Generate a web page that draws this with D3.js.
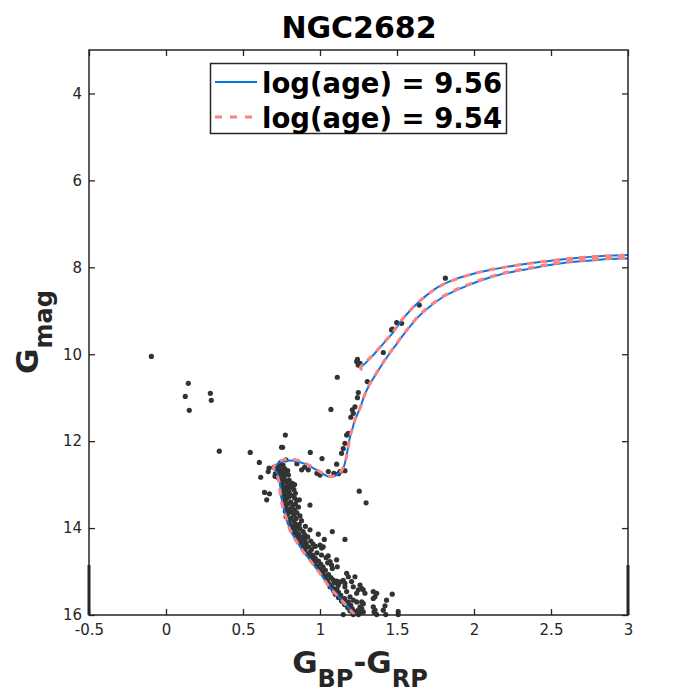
<!DOCTYPE html>
<html>
<head>
<meta charset="utf-8">
<script src="https://cdn.jsdelivr.net/npm/d3@7"></script>
<style>
  body { margin: 0; background: #fff; }
  text { font-family: "DejaVu Sans", sans-serif; }
</style>
</head>
<body>
<script>
const W = 694, H = 694;
const plotL = 89, plotR = 628, plotT = 50, plotB = 615;

const xTicks = [-0.5, 0, 0.5, 1, 1.5, 2, 2.5, 3];
const yTicks = [4, 6, 8, 10, 12, 14, 16];
const seriesNames = ['log(age) = 9.56', 'log(age) = 9.54'];

// isochrones [BP-RP, G], main sequence -> RGB, and the clump/AGB part
const iso956Rgb = [[1.227,16.0],[1.143,15.66],[1.065,15.36],[1.0,15.03],[0.935,14.73],[0.885,14.5],[0.843,14.27],[0.807,14.04],[0.784,13.76],[0.765,13.55],[0.752,13.35],[0.745,13.15],[0.74,12.97],[0.722,12.74],[0.705,12.65],[0.702,12.62],[0.72,12.53],[0.76,12.47],[0.83,12.45],[0.913,12.54],[0.989,12.69],[1.05,12.81],[1.08,12.82],[1.12,12.75],[1.151,12.62],[1.173,12.32],[1.195,11.9],[1.212,11.7],[1.227,11.51],[1.26,11.24],[1.292,10.92],[1.325,10.68],[1.379,10.37],[1.433,10.08],[1.49,9.8],[1.56,9.47],[1.638,9.14],[1.714,8.9],[1.81,8.66],[1.93,8.46],[2.04,8.31],[2.147,8.19],[2.255,8.1],[2.364,8.03],[2.47,7.96],[2.58,7.9],[2.69,7.86],[2.8,7.83],[2.95,7.8],[3.1,7.79]];
const iso956Agb = [[1.27,10.29],[1.346,10.02],[1.41,9.76],[1.475,9.5],[1.53,9.22],[1.606,8.92],[1.693,8.64],[1.779,8.43],[1.888,8.26],[1.996,8.15],[2.104,8.06],[2.212,7.99],[2.32,7.93],[2.43,7.88],[2.54,7.83],[2.646,7.79],[2.755,7.76],[2.906,7.73],[3.1,7.71]];
const iso954Rgb = [[1.225,16.0],[1.14,15.66],[1.062,15.36],[0.997,15.03],[0.932,14.73],[0.882,14.5],[0.84,14.27],[0.804,14.04],[0.78,13.76],[0.761,13.55],[0.748,13.35],[0.74,13.15],[0.735,12.97],[0.717,12.74],[0.7,12.64],[0.698,12.6],[0.718,12.5],[0.76,12.43],[0.83,12.42],[0.913,12.52],[0.99,12.68],[1.05,12.8],[1.082,12.81],[1.122,12.74],[1.153,12.6],[1.175,12.3],[1.196,11.88],[1.213,11.68],[1.228,11.5],[1.262,11.22],[1.294,10.9],[1.327,10.66],[1.381,10.35],[1.435,10.06],[1.492,9.78],[1.562,9.45],[1.64,9.12],[1.716,8.88],[1.812,8.64],[1.932,8.44],[2.042,8.29],[2.15,8.17],[2.258,8.08],[2.367,8.01],[2.472,7.94],[2.582,7.88],[2.692,7.84],[2.802,7.81],[2.952,7.78],[3.1,7.77]];
const iso954Agb = [[1.275,10.36],[1.262,10.31],[1.34,10.03],[1.405,9.77],[1.47,9.51],[1.526,9.23],[1.602,8.93],[1.69,8.65],[1.776,8.44],[1.885,8.27],[1.993,8.15],[2.1,8.06],[2.21,7.99],[2.318,7.93],[2.428,7.88],[2.538,7.83],[2.644,7.79],[2.753,7.76],[2.904,7.73],[3.1,7.71]];

// cluster members [BP-RP, G]
const stars = [
  // blue stragglers
  [-0.095,10.05],[0.145,10.67],[0.125,10.97],[0.288,10.9],[0.294,11.06],[0.151,11.29],[0.346,12.23],[0.547,12.26],[0.606,12.49],
  [0.669,12.62],[0.664,12.7],[0.615,12.83],[0.64,13.18],[0.672,13.21],[0.654,13.35],[0.708,12.81],
  // giants, clump, subgiants
  [1.238,10.17],[1.248,10.25],[1.26,10.21],[1.243,10.12],[1.411,9.96],[1.112,10.53],[1.307,10.63],[1.249,10.88],[1.243,11.0],
  [1.465,9.44],[1.498,9.27],[1.53,9.29],[1.47,9.42],[1.645,8.87],[1.814,8.25],[1.071,11.27],[0.775,11.86],[0.75,12.14],[0.757,12.14],
  [0.937,12.26],[1.013,12.4],[1.14,12.28],[1.151,12.17],[1.162,12.05],[1.173,11.86],[1.184,11.82],[1.227,11.21],[1.216,11.36],
  [1.21,11.28],[1.2,11.45],[0.85,12.52],[0.881,12.66],[0.924,12.66],[0.9,12.6],[0.98,12.74],[1.0,12.78],[1.054,12.7],[1.108,12.53],
  [1.162,12.68],[1.13,12.7],[1.12,12.75],[1.09,12.74],[1.255,13.15],[1.299,13.42],
  // turnoff
  [0.779,12.43],[0.742,12.5],[0.76,12.55],[0.735,12.58],[0.7,12.6],[0.72,12.62],[0.77,12.63],[0.745,12.66],[0.79,12.68],[0.73,12.7],
  [0.755,12.72],[0.78,12.74],[0.71,12.75],[0.74,12.78],[0.765,12.8],[0.725,12.83],[0.795,12.78],
  // main sequence
  [0.745,12.86],[0.77,12.88],[0.8,12.9],[0.76,12.93],[0.785,12.95],[0.82,12.97],[0.75,12.99],[0.795,13.01],[0.835,13.0],
  [0.76,13.04],[0.78,13.07],[0.81,13.06],[0.755,13.1],[0.79,13.12],[0.83,13.11],[0.765,13.16],[0.8,13.18],[0.84,13.2],[0.775,13.22],
  [0.815,13.25],[0.76,13.27],[0.795,13.29],[0.835,13.31],[0.78,13.33],[0.85,13.36],[0.866,13.35],[0.935,13.47],
  [0.77,13.38],[0.81,13.4],[0.79,13.44],[0.84,13.45],[0.765,13.48],[0.82,13.5],[0.78,13.53],[0.86,13.52],[0.8,13.57],[0.835,13.58],
  [0.775,13.61],[0.815,13.63],[0.85,13.65],[0.79,13.67],[0.83,13.7],[0.87,13.72],
  [0.78,13.74],[0.81,13.77],[0.845,13.78],[0.795,13.81],[0.83,13.84],[0.88,13.83],[0.8,13.88],[0.84,13.9],[0.865,13.92],[0.815,13.95],
  [0.85,13.97],[0.905,13.96],[0.825,14.0],[0.87,14.02],[0.84,14.06],[0.89,14.08],[0.935,14.04],[0.989,14.14],[1.028,14.26],[1.08,14.08],
  [1.162,14.26],[0.903,14.26],
  [0.835,14.11],[0.86,14.13],[0.9,14.15],[0.85,14.19],[0.88,14.21],[0.92,14.2],[0.865,14.25],[0.895,14.28],[0.94,14.3],[0.875,14.33],
  [0.91,14.35],[0.955,14.37],[0.89,14.4],[0.925,14.43],[0.97,14.42],[0.905,14.47],[0.945,14.49],[1.0,14.39],[1.011,14.46],[1.021,14.43],
  [0.9,14.52],[0.935,14.55],[0.98,14.57],[0.92,14.6],[0.955,14.63],[1.01,14.62],[0.935,14.67],[0.97,14.7],[1.04,14.68],[0.95,14.74],
  [0.99,14.76],[0.965,14.81],[1.005,14.83],[1.05,14.8],[0.98,14.88],[1.02,14.9],[0.995,14.95],[1.035,14.97],[1.08,14.93],[1.01,15.01],
  [1.053,14.64],[1.065,14.77],[1.108,14.73],[1.112,14.89],[1.075,14.85],
  [1.02,15.05],[1.055,15.07],[1.03,15.11],[1.07,15.14],[1.04,15.18],[1.085,15.19],[1.05,15.23],[1.095,15.26],[1.065,15.3],[1.08,15.37],
  [1.11,15.39],[1.09,15.45],[1.12,15.48],[1.173,15.04],[1.184,15.12],[1.227,15.12],[1.205,15.23],[1.216,15.35],[1.151,15.2],[1.162,15.27],
  [1.108,15.22],[1.119,15.31],[1.13,15.24],[1.26,15.31],[1.271,15.39],[1.281,15.42],[1.249,15.42],[1.292,15.5],[1.238,15.5],[1.346,15.46],
  [1.368,15.5],[1.469,15.52],[1.173,15.46],[1.162,15.35],[1.065,15.35],[1.086,15.42],
  [1.1,15.52],[1.135,15.55],[1.12,15.6],[1.16,15.62],[1.14,15.68],[1.175,15.72],[1.16,15.76],[1.2,15.78],[1.18,15.83],[1.21,15.86],
  [1.195,15.9],[1.23,15.93],[1.215,15.96],[1.25,15.97],[1.432,15.66],[1.422,15.79],[1.411,15.89],[1.351,15.93],[1.271,15.7],[1.281,15.74],
  [1.238,15.93],[1.271,15.93],[1.184,15.7],[1.195,15.58],[1.216,15.66],[1.238,15.7],[1.346,15.62],[1.357,15.58],[1.346,15.81],[1.357,15.89],
  [1.26,15.81],[1.271,15.85],[1.249,15.89],[1.281,15.93],[1.151,15.99],[1.216,15.99],[1.508,15.92],[1.368,15.99],[1.427,15.99],[1.25,15.99],
  [1.508,15.99]
];

const svg = d3.select('body').append('svg').attr('width', W).attr('height', H);

const x = d3.scaleLinear().domain([-0.5, 3]).range([plotL, plotR]);
const y = d3.scaleLinear().domain([3, 16]).range([plotT, plotB]);

svg.append('defs').append('clipPath').attr('id', 'clip')
  .append('rect').attr('x', plotL).attr('y', plotT).attr('width', plotR - plotL).attr('height', plotB - plotT);

const line = d3.line().x(d => x(d[0])).y(d => y(d[1])).curve(d3.curveCatmullRom);

// stars
svg.append('g').selectAll('circle').data(stars).enter().append('circle')
  .attr('cx', d => x(d[0])).attr('cy', d => y(d[1])).attr('r', 2.6)
  .attr('fill', '#333333');

const iso = svg.append('g').attr('clip-path', 'url(#clip)');
[iso956Rgb, iso956Agb].forEach(s => iso.append('path').attr('d', line(s))
  .attr('fill', 'none').attr('stroke', '#0077e6').attr('stroke-width', 2));
[iso954Rgb, iso954Agb].forEach(s => iso.append('path').attr('d', line(s))
  .attr('fill', 'none').attr('stroke', '#ff8080').attr('stroke-width', 3).attr('stroke-dasharray', '7,6'));

// axes
const axColor = '#262626';
function styleAxis(g) {
  g.select('.domain').remove();
  g.selectAll('line').attr('stroke', axColor).attr('stroke-width', 1.3);
  g.selectAll('text').attr('fill', axColor).attr('font-size', 15).attr('font-family', 'DejaVu Sans');
}
svg.append('g').attr('transform', `translate(0,${plotB})`)
  .call(d3.axisBottom(x).tickValues(xTicks).tickSize(-6).tickPadding(9).tickFormat(d => String(d)))
  .call(styleAxis);
svg.append('g').attr('transform', `translate(0,${plotT})`)
  .call(d3.axisTop(x).tickValues(xTicks).tickSize(-6).tickFormat(''))
  .call(styleAxis);
svg.append('g').attr('transform', `translate(${plotL},0)`)
  .call(d3.axisLeft(y).tickValues(yTicks).tickSize(-6).tickPadding(7).tickFormat(d => String(d)))
  .call(styleAxis);
svg.append('g').attr('transform', `translate(${plotR},0)`)
  .call(d3.axisRight(y).tickValues(yTicks).tickSize(-6).tickFormat(''))
  .call(styleAxis);

svg.append('rect').attr('x', plotL).attr('y', plotT).attr('width', plotR - plotL).attr('height', plotB - plotT)
  .attr('fill', 'none').attr('stroke', axColor).attr('stroke-width', 1.5);
// heavier stubs at the bottom of the side axes
[plotL, plotR].forEach(px => svg.append('line').attr('x1', px).attr('x2', px)
  .attr('y1', y(14.85)).attr('y2', plotB).attr('stroke', axColor).attr('stroke-width', 3));

// title
svg.append('text').attr('x', 359).attr('y', 38).attr('text-anchor', 'middle')
  .attr('font-size', 30).attr('font-weight', 'bold').attr('fill', '#000').text('NGC2682');

// axis labels
const xl = svg.append('text').attr('x', 360).attr('y', 673).attr('text-anchor', 'middle')
  .attr('font-weight', 'bold').attr('fill', axColor).attr('font-size', 31);
xl.append('tspan').text('G');
xl.append('tspan').attr('font-size', 24).attr('dy', 14).text('BP');
xl.append('tspan').attr('dy', -14).text('-G');
xl.append('tspan').attr('font-size', 24).attr('dy', 14).text('RP');

const yl = svg.append('text').attr('transform', `translate(38,${332}) rotate(-90)`).attr('text-anchor', 'middle')
  .attr('font-weight', 'bold').attr('fill', axColor).attr('font-size', 31);
yl.append('tspan').text('G');
yl.append('tspan').attr('font-size', 24).attr('dy', 14).text('mag');

// legend
const lg = svg.append('g');
lg.append('rect').attr('x', 210.5).attr('y', 63.5).attr('width', 296).attr('height', 70)
  .attr('fill', '#fff').attr('stroke', axColor).attr('stroke-width', 1.5);
const legendStyles = [
  { color: '#0077e6', width: 2, dash: null, yy: 82 },
  { color: '#ff8080', width: 3, dash: '7,8', yy: 117 }
];
seriesNames.forEach((name, i) => {
  const s = legendStyles[i];
  lg.append('line').attr('x1', 215).attr('x2', 257).attr('y1', s.yy).attr('y2', s.yy)
    .attr('stroke', s.color).attr('stroke-width', s.width).attr('stroke-dasharray', s.dash);
  lg.append('text').attr('x', 262).attr('y', s.yy + 11).attr('font-size', 27.5).attr('font-weight', 'bold')
    .attr('fill', '#000').text(name);
});
</script>
</body>
</html>
